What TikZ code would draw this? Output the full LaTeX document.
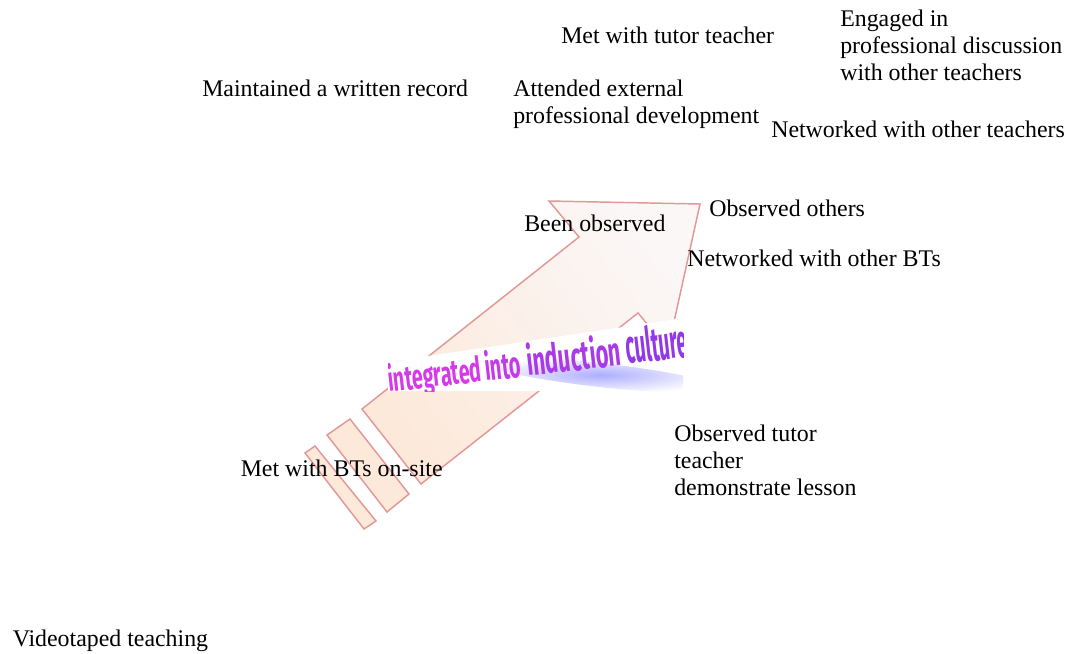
\documentclass[tikz,border=0pt]{standalone}
\usepackage{fontspec}
\usepackage{graphicx}
\setmainfont{Liberation Serif}
\newfontfamily\artfont{Fira Sans}
\usetikzlibrary{fadings}

\definecolor{arrowline}{RGB}{226,152,150}
\definecolor{peach}{RGB}{252,233,218}
\definecolor{blush}{RGB}{251,247,247}
\definecolor{glowblue}{RGB}{120,120,255}
\definecolor{artA}{RGB}{214,58,232}
\definecolor{artB}{RGB}{196,58,232}
\definecolor{artC}{RGB}{170,58,232}
\definecolor{artD}{RGB}{146,56,230}
\definecolor{artrim}{RGB}{236,190,246}

\tikzfading[name=softglow, inner color=transparent!0, outer color=transparent!100]

\begin{document}
\begin{tikzpicture}[x=0.75pt, y=-0.75pt,
  txt/.style={font=\fontsize{17.9}{20.25}\selectfont, inner sep=0pt, anchor=base west, align=left},
  art/.style={font=\artfont\bfseries, inner sep=0pt, anchor=base west, rotate=6.4},
  stripe/.style={draw=arrowline, fill=peach, line width=1.1pt, line join=miter}]

\useasboundingbox (0,0) rectangle (1073,653);

% tail stripes
\filldraw[stripe] (305,453) -- (315,446) -- (376,521) -- (364,529) -- cycle;
\filldraw[stripe] (327,435) -- (350,419) -- (409,494) -- (387,512) -- cycle;

% the big arrow
\shade[draw=arrowline, line width=1.1pt, line join=miter,
  left color=peach, right color=blush, shading angle=128]
  (362,409) -- (579,237) -- (549,201) -- (700,204) -- (668,349)
  -- (638,313) -- (421,484) -- cycle;

% word art banner
\begin{scope}
  \clip (388,300) rectangle (683,391);
  \fill[white] (388,362) -- (683,318) -- (683,391) -- (388,391) -- cycle;
  \fill[glowblue, opacity=0.6, path fading=softglow, rotate around={-6.4:(600,375)}]
    (600,375) ellipse [x radius=120, y radius=12];
  \node[art, text=artA] (w1) at (389,392) {\resizebox{70.5pt}{21pt}{integrated}};
  \node[art, text=artB] (w2) at (486,381) {\resizebox{27pt}{22.5pt}{into}};
  \node[art, text=artC] (w3) at (528,376) {\resizebox{71pt}{24.5pt}{induction}};
  \node[art, text=artD] (w4) at (627,364) {\resizebox{47pt}{27pt}{culture}};
\end{scope}

% activity labels
\node[txt] (maintained) at (202,96) {Maintained a written record};
\node[txt] (tutor) at (561,43) {Met with tutor teacher};
\node[txt] (engaged) at (840,80) {Engaged in\\professional discussion\\with other teachers};
\node[txt] (external) at (513,123) {Attended external\\professional development};
\node[txt] (netteach) at (771,137.5) {Networked with other teachers};
\node[txt] (observed) at (524,231.5) {Been observed};
\node[txt] (others) at (709,216.5) {Observed others};
\node[txt] (netbts) at (687,266.5) {Networked with other BTs};
\node[txt] (demo) at (674,495.5) {Observed tutor\\teacher\\demonstrate lesson};
\node[txt] (onsite) at (240.5,476) {Met with BTs on-site};
\node[txt] (video) at (12.5,646.5) {Videotaped teaching};

\end{tikzpicture}
\end{document}
